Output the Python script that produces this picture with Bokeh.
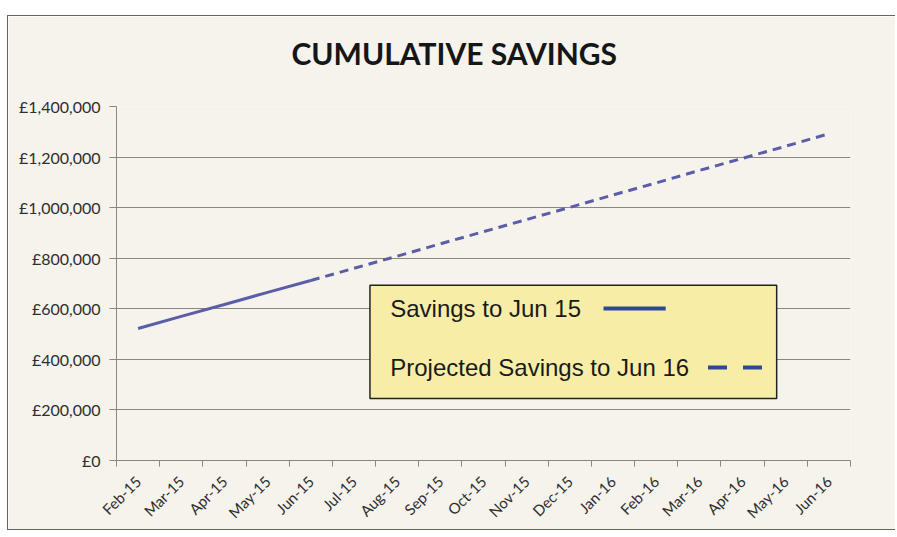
from bokeh.plotting import figure
from bokeh.models import (FixedTicker, BoxAnnotation, Label, Arrow, ColumnDataSource, Title)
from bokeh.embed import file_html
from bokeh.resources import INLINE
import math

title_text = "CUMULATIVE SAVINGS"
months = ["Feb-15", "Mar-15", "Apr-15", "May-15", "Jun-15", "Jul-15", "Aug-15", "Sep-15",
          "Oct-15", "Nov-15", "Dec-15", "Jan-16", "Feb-16", "Mar-16", "Apr-16", "May-16", "Jun-16"]
savings_actual = [522000, 570000, 617000, 665000, 712000]
savings_projected = [712000, 760000, 808000, 857000, 905000, 953000, 1001000, 1050000,
                     1098000, 1147000, 1195000, 1243000, 1292000]
y_ticks = [0, 200000, 400000, 600000, 800000, 1000000, 1200000, 1400000]
y_tick_labels = ["£0", "£200,000", "£400,000", "£600,000", "£800,000", "£1,000,000",
                 "£1,200,000", "£1,400,000"]
legend_labels = ["Savings to Jun 15", "Projected Savings to Jun 16"]

BG = "#f5f3ec"
LINE = "#5b5da8"
LEG_LINE = "#2f4a8c"
GRID = "#8a877e"

idx = list(range(len(months)))
act_src = ColumnDataSource(dict(x=idx[:len(savings_actual)], y=savings_actual))
proj_src = ColumnDataSource(dict(x=idx[len(savings_actual) - 1:], y=savings_projected))

p = figure(width=888, height=515, output_backend="svg", toolbar_location=None, title=None,
           x_range=(-0.5, len(months) - 0.5), y_range=(0, 1400000),
           background_fill_color=BG, border_fill_color=BG,
           min_border_left=108, min_border_right=46, min_border_bottom=71, min_border_top=90)
p.styles = {"margin-left": "7px", "margin-top": "15px",
            "border-left": "1.5px solid #666660", "border-top": "1.5px solid #666660",
            "border-bottom": "1.5px solid #666660"}
p.outline_line_color = None

# spacer between frame and title, then the title itself
p.add_layout(Title(text=" ", text_font_size="2px", standoff=32), "above")
p.add_layout(Title(text=title_text, align="left", offset=175, standoff=0,
                   text_font="Lato", text_font_size="30px", text_font_style="bold",
                   text_color="#161616"), "above")

p.line("x", "y", source=act_src, line_color=LINE, line_width=3)
p.line("x", "y", source=proj_src, line_color=LINE, line_width=3, line_dash="9 6")

# axes
p.xaxis.ticker = FixedTicker(ticks=idx, minor_ticks=[i - 0.5 for i in range(len(months) + 1)])
p.xaxis.major_label_overrides = {i: m for i, m in enumerate(months)}
p.xaxis.major_label_orientation = math.pi / 4
p.xaxis.major_tick_line_color = None
p.xaxis.minor_tick_line_color = GRID
p.xaxis.minor_tick_out = 6
p.xaxis.minor_tick_in = 0
p.xaxis.axis_line_color = GRID
p.xaxis.major_label_text_font = "Lato"
p.xaxis.major_label_text_font_size = "15px"
p.xaxis.major_label_text_color = "#2e2e2e"
p.xaxis.major_label_standoff = 12

p.yaxis.ticker = FixedTicker(ticks=y_ticks, minor_ticks=[])
p.yaxis.major_label_overrides = {t: l for t, l in zip(y_ticks, y_tick_labels)}
p.yaxis.axis_line_color = GRID
p.yaxis.major_tick_line_color = GRID
p.yaxis.major_tick_out = 7
p.yaxis.major_tick_in = 0
p.yaxis.major_label_text_font = "Lato"
p.yaxis.major_label_text_font_size = "16px"
p.yaxis.major_label_text_color = "#2e2e2e"
p.yaxis.major_label_standoff = 9

p.xgrid.grid_line_color = None
p.ygrid.grid_line_color = GRID
p.ygrid.grid_line_width = 1

# custom legend (label then sample line)
p.add_layout(BoxAnnotation(left=5.37, right=14.79, bottom=245000, top=693000,
                           fill_color="#f7eda6", fill_alpha=1, line_color="#222222",
                           line_alpha=1, line_width=1.5, level="overlay"))
p.add_layout(Label(x=5.84, y=601000, text=legend_labels[0], text_font="Liberation Sans",
                   text_font_size="24px", text_color="#1a1a1a", text_baseline="middle",
                   level="overlay"))
p.add_layout(Label(x=5.84, y=368000, text=legend_labels[1], text_font="Liberation Sans",
                   text_font_size="24px", text_color="#1a1a1a", text_baseline="middle",
                   level="overlay"))
p.add_layout(Arrow(end=None, x_start=10.78, y_start=601000, x_end=12.22, y_end=601000,
                   line_color=LEG_LINE, line_width=4, level="overlay"))
p.add_layout(Arrow(end=None, x_start=13.2, y_start=368000, x_end=14.55, y_end=368000,
                   line_color=LEG_LINE, line_width=4, line_dash="19 16", level="overlay"))

open("out.html", "w").write(file_html(p, INLINE))
